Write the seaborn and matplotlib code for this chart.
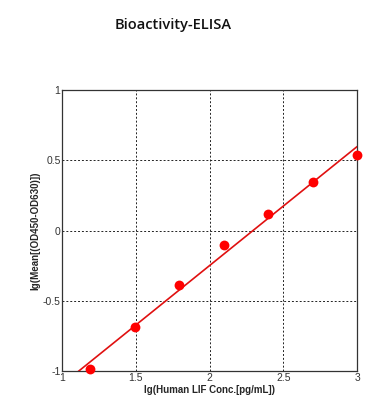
import numpy as np
import pandas as pd
import matplotlib
matplotlib.use("Agg")
import matplotlib.pyplot as plt
import seaborn as sns

# data
log_conc = [1.193, 1.495, 1.796, 2.097, 2.398, 2.699, 3.0]
log_od = [-0.986, -0.689, -0.388, -0.106, 0.120, 0.343, 0.537]
x_ticks = [1, 1.5, 2, 2.5, 3]
x_ticklabels = ["1", "1.5", "2", "2.5", "3"]
y_ticks = [-1, -0.5, 0, 0.5, 1]
y_ticklabels = ["-1", "-0.5", "0", "0.5", "1"]

df = pd.DataFrame({"x": log_conc, "y": log_od})

sns.set_style("white")
plt.rcParams["font.family"] = ["Liberation Sans", "DejaVu Sans"]

fig = plt.figure(figsize=(3.92, 4.17), dpi=100)
ax = fig.add_axes([0.158, 0.110, 0.753, 0.674])
ax.set_xlim(1, 3)
ax.set_ylim(-1, 1)

sns.regplot(data=df, x="x", y="y", ax=ax, ci=None, truncate=False,
            scatter_kws=dict(s=50, color="#ff0000", edgecolor="#ff0000", linewidths=0,
                             alpha=1, zorder=4, clip_on=False),
            line_kws=dict(color="#e01010", lw=1.2, zorder=3))

ax.set_xlim(1, 3)
ax.set_ylim(-1, 1)
ax.set_xticks(x_ticks)
ax.set_xticklabels(x_ticklabels)
ax.set_yticks(y_ticks)
ax.set_yticklabels(y_ticklabels)
ax.tick_params(length=0, labelsize=7.5, colors="#333333", pad=1)
ax.grid(True, color="#222222", linestyle=(0, (2, 2)), linewidth=0.7)
for s in ax.spines.values():
    s.set_visible(True)
    s.set_color("#333333")
    s.set_linewidth(0.9)

ax.set_xlabel("lg(Human LIF Conc.[pg/mL])", fontsize=7, fontweight="bold", labelpad=2)
ax.set_ylabel("lg(Mean[(OD450-OD630)])", fontsize=7, fontweight="bold", labelpad=2)

fig.text(0.441, 0.94, "Bioactivity-ELISA", ha="center", va="center",
         fontsize=10.5, fontweight="semibold", family=["Open Sans", "DejaVu Sans"], color="#111111")

fig.savefig("out.png", dpi=100)
